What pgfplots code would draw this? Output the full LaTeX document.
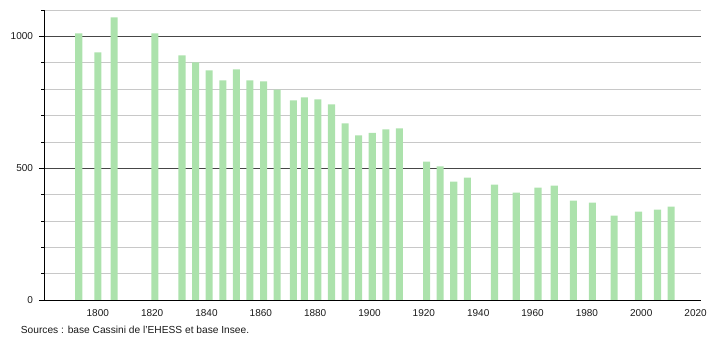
\documentclass[border=0pt]{standalone}
\usepackage{pgfplots}
\pgfplotsset{compat=1.18}
\usepackage{fontspec}
\setmainfont{Liberation Sans}
\definecolor{barg}{RGB}{172,226,172}
\definecolor{minorg}{RGB}{200,200,200}
\definecolor{majorg}{RGB}{70,70,70}
\begin{document}
\begin{tikzpicture}
\path[use as bounding box] (-44pt,-40pt) rectangle (666pt,300pt);
\begin{axis}[
  at={(0,0)}, anchor=south west,
  scale only axis,
  width=657pt, height=290pt,
  xmin=1780.2, xmax=2022,
  ymin=0, ymax=1100,
  axis x line=bottom, axis y line=left,
  axis line style={-, black, line width=0.8pt},
  xtick={1800,1820,...,2020},
  ytick={0,500,1000},
  minor ytick={100,200,300,400,600,700,800,900,1100},
  tick align=outside,
  major tick length=5pt,
  minor tick length=2.5pt,
  xtick style={draw=none},
  ytick style={black, line width=0.6pt},
  ymajorgrids, yminorgrids,
  major grid style={majorg, line width=0.7pt},
  minor grid style={minorg, line width=0.6pt},
  /pgf/number format/1000 sep={},
  /pgf/number format/assume math mode=true,
  tick label style={font=\fontsize{10}{12}\selectfont, text=black!90},
  yticklabel style={xshift=-2.5pt},
  xticklabel style={yshift=-1pt},
  ybar, bar width=2.6,
  clip=false,
]
\addplot[fill=barg, draw=none] coordinates {
(1793,1011) (1800,939) (1806,1072) (1821,1011) (1831,928) (1836,901)
(1841,871) (1846,833) (1851,875) (1856,833) (1861,829) (1866,798)
(1872,757) (1876,769) (1881,761) (1886,742) (1891,670) (1896,624)
(1901,634) (1906,647) (1911,651) (1921,525) (1926,507) (1931,449)
(1936,464) (1946,438) (1954,407) (1962,426) (1968,434) (1975,377)
(1982,369) (1990,320) (1999,335) (2006,343) (2011,354)
};
\end{axis}
\node[anchor=west, inner sep=0pt, font=\fontsize{10.2}{12}\selectfont, text=black!90] at (-23.3pt,-29.7pt) {Sources : base Cassini de l'EHESS et base Insee.};
\end{tikzpicture}
\end{document}
